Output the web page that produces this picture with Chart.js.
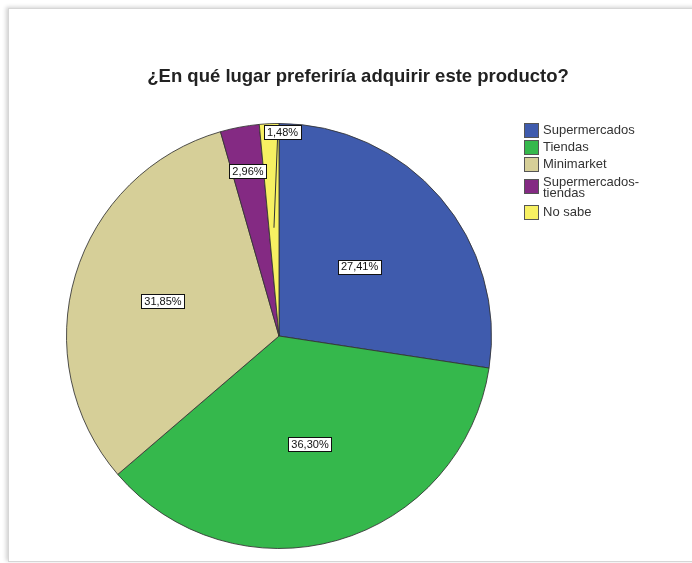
<!DOCTYPE html>
<html lang="es">
<head>
    <meta charset="UTF-8">
    <title>Lugar de compra</title>
    <style>
        html, body { margin: 0; padding: 0; background: #fff; }
        #wrap { position: relative; width: 692px; height: 563px; overflow: hidden; }
        #frame {
            position: absolute; left: 8px; top: 8px; width: 720px; height: 552px;
            border: 1px solid #d6d6d6; box-shadow: -2px -1px 4px rgba(0,0,0,0.18);
            background: #fff;
        }
        canvas { position: absolute; left: 0; top: 0; }
    </style>
</head>
<body>
<div id="wrap">
    <div id="frame"></div>
    <canvas id="pieChart" width="692" height="563"></canvas>
</div>
<script src="https://cdn.jsdelivr.net/npm/chart.js"></script>
<script>
    // data
    const chartTitle = '¿En qué lugar preferiría adquirir este producto?';
    const categories = ['Supermercados', 'Tiendas', 'Minimarket', 'Supermercados-tiendas', 'No sabe'];
    const percents = [27.41, 36.30, 31.85, 2.96, 1.48];
    const sliceColors = ['#3f5bad', '#35b84c', '#d6cf98', '#842a83', '#f7f062'];

    // where each label sits: fraction of the radius, plus a small sideways nudge
    const labelRadius = [0.5, 0.53, 0.57, 0.79, 0.96];
    const labelShiftX = [0, 0, 0, 0, 13];

    function fmt(v) {
        return v.toFixed(2).replace('.', ',') + '%';
    }

    const extrasPlugin = {
        id: 'extras',
        afterDraw(chart) {
            const ctx = chart.ctx;
            const meta = chart.getDatasetMeta(0);

            // title
            ctx.save();
            ctx.fillStyle = '#222';
            ctx.font = 'bold 18.5px "Liberation Sans", Arial, sans-serif';
            ctx.textAlign = 'center';
            ctx.textBaseline = 'middle';
            ctx.fillText(chartTitle, 358, 77);
            ctx.restore();

            // value labels
            ctx.save();
            ctx.font = '11px "Liberation Sans", Arial, sans-serif';
            ctx.textAlign = 'center';
            ctx.textBaseline = 'middle';
            meta.data.forEach((arc, i) => {
                const p = arc.getProps(['x', 'y', 'startAngle', 'endAngle', 'outerRadius'], true);
                const mid = (p.startAngle + p.endAngle) / 2;
                const r = p.outerRadius * labelRadius[i];
                const lx = p.x + Math.cos(mid) * r + labelShiftX[i];
                const ly = p.y + Math.sin(mid) * r;
                const txt = fmt(percents[i]);
                const w = ctx.measureText(txt).width + 6;
                const h = 14;
                if (i === percents.length - 1) {
                    // leader line into the small slice
                    const ix = p.x + Math.cos(mid) * p.outerRadius * 0.51;
                    const iy = p.y + Math.sin(mid) * p.outerRadius * 0.51;
                    ctx.strokeStyle = '#333';
                    ctx.lineWidth = 1;
                    ctx.beginPath();
                    ctx.moveTo(lx - 5, ly + h / 2);
                    ctx.lineTo(ix, iy);
                    ctx.stroke();
                }
                ctx.fillStyle = '#fff';
                ctx.fillRect(Math.round(lx - w / 2) + 0.5, Math.round(ly - h / 2) + 0.5, Math.round(w), h);
                ctx.strokeStyle = '#111';
                ctx.lineWidth = 1;
                ctx.strokeRect(Math.round(lx - w / 2) + 0.5, Math.round(ly - h / 2) + 0.5, Math.round(w), h);
                ctx.fillStyle = '#111';
                ctx.fillText(txt, lx, ly + 0.5);
            });
            ctx.restore();

            // legend
            ctx.save();
            ctx.font = '13px "Liberation Sans", Arial, sans-serif';
            ctx.textBaseline = 'middle';
            let y = 123;
            categories.forEach((name, i) => {
                let lines = [name];
                if (name.length > 16 && name.includes('-')) {
                    const k = name.indexOf('-') + 1;
                    lines = [name.slice(0, k), name.slice(k)];
                }
                const boxY = lines.length === 1 ? y : y + 5;
                ctx.fillStyle = sliceColors[i];
                ctx.fillRect(524.5, boxY + 0.5, 14, 14);
                ctx.strokeStyle = '#555';
                ctx.lineWidth = 1;
                ctx.strokeRect(524.5, boxY + 0.5, 14, 14);
                ctx.fillStyle = '#333';
                if (lines.length === 1) {
                    ctx.fillText(lines[0], 543, y + 7.5);
                    y += 17;
                } else {
                    ctx.fillText(lines[0], 543, y + 8);
                    ctx.fillText(lines[1], 543, y + 19);
                    y += 31;
                }
            });
            ctx.restore();
        }
    };

    new Chart(document.getElementById('pieChart').getContext('2d'), {
        type: 'pie',
        data: {
            labels: categories,
            datasets: [{
                data: percents,
                backgroundColor: sliceColors,
                borderColor: 'rgba(50,50,50,0.85)',
                borderWidth: 1
            }]
        },
        options: {
            responsive: false,
            animation: false,
            layout: { padding: { left: 66, right: 200, top: 123, bottom: 14 } },
            plugins: {
                legend: { display: false },
                tooltip: { enabled: false }
            }
        },
        plugins: [extrasPlugin]
    });
</script>
</body>
</html>
